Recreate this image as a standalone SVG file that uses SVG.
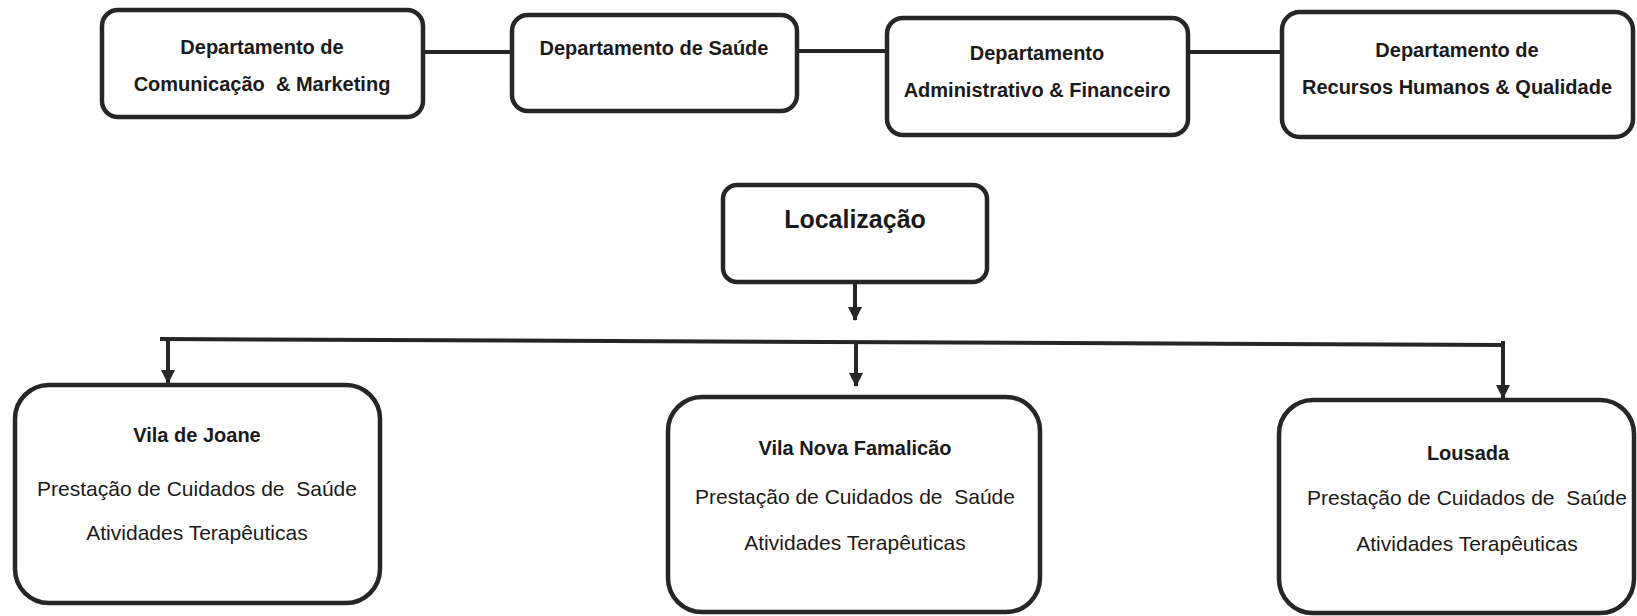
<svg xmlns="http://www.w3.org/2000/svg" width="1637" height="616" viewBox="0 0 1637 616">
<defs>
<style>
.box{fill:#fff;stroke:#262626;stroke-width:4.5}
.ln{fill:none;stroke:#262626;stroke-width:4}
.b{font-family:"Liberation Sans",Arial,sans-serif;font-weight:bold;font-size:20px;fill:#1a1a1a;text-anchor:middle}
.r{font-family:"Liberation Sans",Arial,sans-serif;font-size:21px;fill:#1a1a1a;text-anchor:middle;white-space:pre}
</style>
<marker id="ah" markerWidth="14" markerHeight="16" refX="13" refY="7" orient="auto" markerUnits="userSpaceOnUse" viewBox="0 0 14 14">
<path d="M0,0 L14,7 L0,14 Z" fill="#262626"/>
</marker>
</defs>
<rect width="1637" height="616" fill="#fff"/>
<g id="connectors">
<line class="ln" x1="423" y1="52" x2="512" y2="52"/>
<line class="ln" x1="797" y1="51" x2="887" y2="51"/>
<line class="ln" x1="1188" y1="52" x2="1282" y2="52"/>
<line class="ln" x1="855" y1="282" x2="855" y2="320" marker-end="url(#ah)"/>
<path class="ln" d="M160,339 L1503,345 L1503,341"/>
<line class="ln" x1="168" y1="339" x2="168" y2="383" marker-end="url(#ah)"/>
<line class="ln" x1="856" y1="342" x2="856" y2="386" marker-end="url(#ah)"/>
<line class="ln" x1="1503" y1="345" x2="1503" y2="398" marker-end="url(#ah)"/>
</g>
<g id="dep-comunicacao">
<rect class="box" x="102" y="10" width="321" height="107" rx="16"/>
<text class="b" x="262" y="54">Departamento de</text>
<text class="b" x="262" y="91" style="white-space:pre">Comunicação  &amp; Marketing</text>
</g>
<g id="dep-saude">
<rect class="box" x="512" y="15" width="285" height="96" rx="16"/>
<text class="b" x="654" y="55">Departamento de Saúde</text>
</g>
<g id="dep-administrativo">
<rect class="box" x="887" y="18" width="301" height="117" rx="16"/>
<text class="b" x="1037" y="60">Departamento</text>
<text class="b" x="1037" y="97">Administrativo &amp; Financeiro</text>
</g>
<g id="dep-rh">
<rect class="box" x="1282" y="12" width="351" height="125" rx="18"/>
<text class="b" x="1457" y="57">Departamento de</text>
<text class="b" x="1457" y="94">Recursos Humanos &amp; Qualidade</text>
</g>
<g id="localizacao">
<rect class="box" x="723" y="185" width="264" height="97" rx="14"/>
<text class="b" x="855" y="228" style="font-size:25px">Localização</text>
</g>
<g id="vila-de-joane">
<rect class="box" x="15" y="385" width="365" height="218" rx="34"/>
<text class="b" x="197" y="442">Vila de Joane</text>
<text class="r" x="197" y="496">Prestação de Cuidados de  Saúde</text>
<text class="r" x="197" y="540">Atividades Terapêuticas</text>
</g>
<g id="vila-nova-famalicao">
<rect class="box" x="668" y="397" width="372" height="215" rx="34"/>
<text class="b" x="855" y="455">Vila Nova Famalicão</text>
<text class="r" x="855" y="504">Prestação de Cuidados de  Saúde</text>
<text class="r" x="855" y="550">Atividades Terapêuticas</text>
</g>
<g id="lousada">
<rect class="box" x="1279" y="400" width="355" height="213" rx="34"/>
<text class="b" x="1468" y="460">Lousada</text>
<text class="r" x="1467" y="505">Prestação de Cuidados de  Saúde</text>
<text class="r" x="1467" y="551">Atividades Terapêuticas</text>
</g>
</svg>
